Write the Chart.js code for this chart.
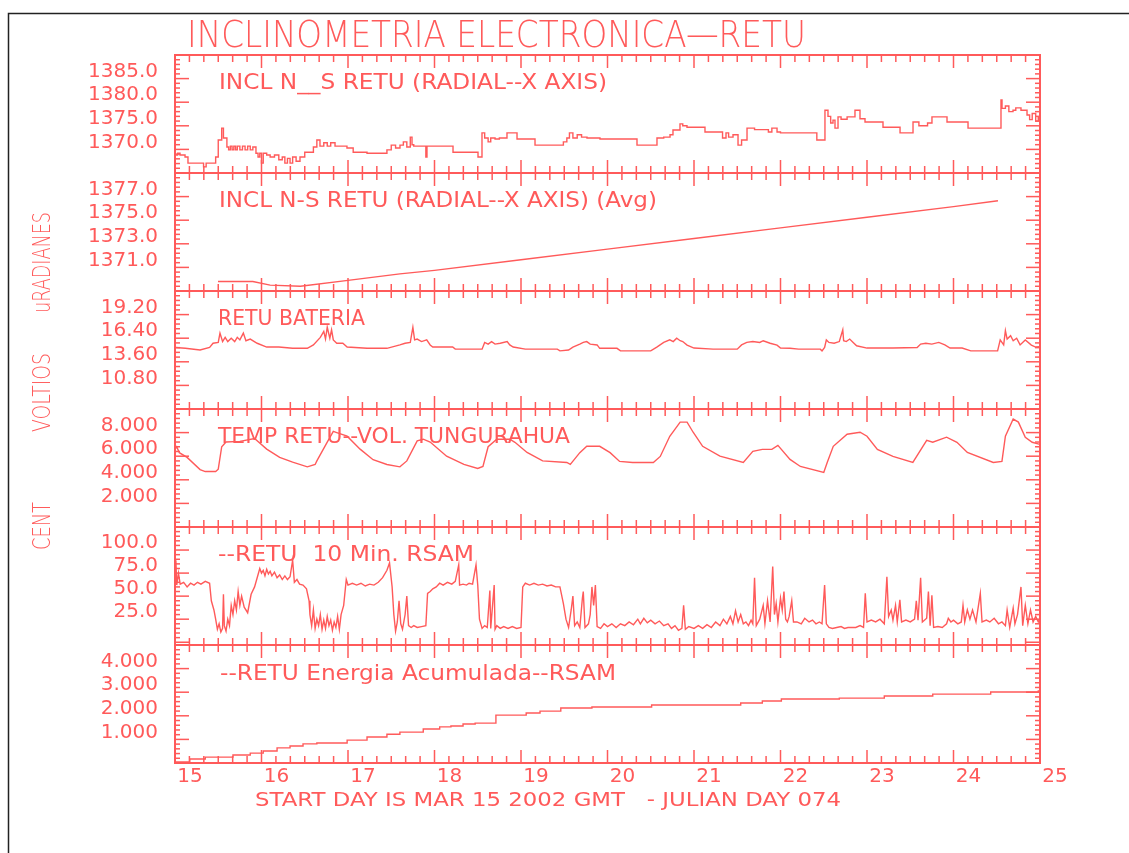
<!DOCTYPE html>
<html><head><meta charset="utf-8">
<script src="https://cdn.jsdelivr.net/npm/chart.js@4/dist/chart.umd.min.js"></script>
<style>html,body{margin:0;padding:0;background:#fff;}canvas{display:block;}</style>
</head><body>
<canvas id="c" width="1129" height="853" style="width:1129px;height:853px"></canvas>
<script>
const RED = '#ff5a5a';
const FONT = 'DejaVu Sans';

// ---- texts ----
const mainTitle = 'INCLINOMETRIA ELECTRONICA\u2014RETU';
const xTitle = 'START DAY IS MAR 15 2002 GMT   - JULIAN DAY 074';
const p1Title = 'INCL N__S RETU (RADIAL--X AXIS)';
const p2Title = 'INCL N-S RETU (RADIAL--X AXIS) (Avg)';
const p3Title = 'RETU BATERIA';
const p4Title = 'TEMP RETU--VOL. TUNGURAHUA';
const p5Title = '--RETU  10 Min. RSAM';
const p6Title = '--RETU Energia Acumulada--RSAM';
const sideLabels = ['uRADIANES', 'VOLTIOS', 'CENT'];

// ---- x axis (days) ----
const dayTicks = [15,16,17,18,19,20,21,22,23,24,25];
const subTicksPerDay = 6;

// ---- tick values & labels ----
const p1Ticks = [1385,1380,1375,1370], p1Labels = ['1385.0','1380.0','1375.0','1370.0'];
const p2Ticks = [1377,1375,1373,1371], p2Labels = ['1377.0','1375.0','1373.0','1371.0'];
const p3Ticks = [19.2,16.4,13.6,10.8], p3Labels = ['19.20','16.40','13.60','10.80'];
const p4Ticks = [8,6,4,2], p4Labels = ['8.000','6.000','4.000','2.000'];
const p5Ticks = [100,75,50,25], p5Labels = ['100.0','75.0','50.0','25.0'];
const p6Ticks = [4,3,2,1], p6Labels = ['4.000','3.000','2.000','1.000'];

// ---- series [day, value] ----
const inclNS = [[15.000,1368.8],[15.030,1369.2],[15.058,1368.8],[15.116,1368.4],[15.150,1367.1],[15.290,1367.1],[15.330,1366.3],[15.360,1367.1],[15.420,1367.1],[15.470,1368.4],[15.500,1372.0],[15.540,1374.5],[15.560,1372.4],[15.600,1370.5],[15.620,1369.9],[15.640,1370.7],[15.660,1369.9],[15.680,1370.7],[15.700,1369.9],[15.720,1370.7],[15.750,1369.9],[15.780,1370.7],[15.810,1369.9],[15.840,1370.7],[15.870,1369.9],[15.900,1370.5],[15.936,1369.2],[15.960,1368.4],[15.980,1369.2],[16.000,1367.1],[16.020,1369.2],[16.060,1368.8],[16.100,1368.4],[16.150,1368.8],[16.200,1367.8],[16.240,1368.4],[16.270,1367.1],[16.300,1368.1],[16.330,1367.1],[16.360,1368.4],[16.400,1367.5],[16.445,1368.4],[16.500,1369.4],[16.560,1369.4],[16.600,1370.5],[16.640,1372.0],[16.676,1370.7],[16.720,1371.4],[16.760,1370.7],[16.800,1371.4],[16.850,1370.7],[16.900,1370.7],[16.988,1370.3],[17.060,1369.4],[17.150,1369.4],[17.220,1369.2],[17.300,1369.2],[17.400,1369.2],[17.450,1369.9],[17.500,1370.9],[17.550,1370.3],[17.601,1370.9],[17.640,1371.6],[17.680,1370.5],[17.720,1372.6],[17.740,1371.0],[17.760,1370.7],[17.800,1370.7],[17.900,1368.4],[17.913,1370.7],[18.000,1370.7],[18.050,1370.7],[18.214,1369.4],[18.300,1369.4],[18.490,1369.4],[18.503,1368.4],[18.549,1373.5],[18.580,1372.4],[18.620,1371.6],[18.650,1372.4],[18.700,1372.2],[18.750,1372.4],[18.838,1373.5],[18.954,1372.2],[19.162,1370.9],[19.300,1370.9],[19.451,1370.9],[19.490,1371.6],[19.530,1372.4],[19.560,1373.5],[19.600,1372.4],[19.650,1373.1],[19.700,1372.6],[19.763,1372.4],[19.913,1372.2],[20.100,1372.2],[20.300,1372.2],[20.341,1370.9],[20.410,1370.9],[20.526,1370.9],[20.572,1372.4],[20.650,1372.6],[20.723,1373.1],[20.757,1374.1],[20.838,1375.4],[20.870,1375.0],[20.919,1374.7],[21.127,1373.7],[21.301,1373.7],[21.330,1372.4],[21.370,1373.5],[21.400,1372.6],[21.451,1373.1],[21.509,1370.9],[21.550,1372.0],[21.613,1374.5],[21.700,1374.2],[21.800,1374.2],[21.860,1373.7],[21.900,1374.5],[21.960,1373.7],[22.000,1373.5],[22.200,1373.5],[22.376,1373.5],[22.420,1372.0],[22.514,1378.3],[22.549,1377.0],[22.580,1375.6],[22.607,1376.2],[22.630,1374.5],[22.665,1376.9],[22.700,1376.4],[22.770,1376.9],[22.861,1378.3],[22.919,1376.5],[22.977,1375.8],[23.185,1374.7],[23.382,1373.5],[23.532,1375.8],[23.600,1375.0],[23.700,1375.6],[23.751,1376.9],[23.850,1376.9],[23.925,1375.8],[24.140,1375.8],[24.168,1374.5],[24.225,1374.5],[24.514,1374.5],[24.549,1380.5],[24.561,1378.7],[24.600,1379.2],[24.640,1378.0],[24.688,1378.3],[24.720,1378.8],[24.780,1378.3],[24.850,1377.3],[24.880,1376.3],[24.910,1377.6],[24.950,1376.0],[24.980,1376.9],[25.000,1376.0]];

const inclAvg = [[15.497,1369.8],[15.900,1369.8],[16.100,1369.5],[16.450,1369.4],[17.000,1369.9],[17.600,1370.45],[18.000,1370.75],[19.000,1371.65],[20.000,1372.55],[21.000,1373.45],[22.000,1374.35],[23.000,1375.25],[24.000,1376.15],[24.514,1376.65]];

const bateria = [[15.00,15.3],[15.12,15.2],[15.29,15.0],[15.40,15.3],[15.44,15.8],[15.50,15.9],[15.52,17.0],[15.55,16.0],[15.58,16.5],[15.61,16.0],[15.65,16.4],[15.69,16.0],[15.72,16.5],[15.75,16.2],[15.79,17.0],[15.82,16.1],[15.87,16.3],[15.95,15.8],[16.06,15.35],[16.20,15.35],[16.36,15.2],[16.53,15.2],[16.60,15.6],[16.68,16.5],[16.72,17.2],[16.74,16.3],[16.76,17.7],[16.79,16.4],[16.81,17.4],[16.83,16.2],[16.87,15.8],[16.94,15.8],[16.99,15.35],[17.22,15.2],[17.45,15.2],[17.60,15.6],[17.66,15.8],[17.72,15.9],[17.75,17.7],[17.77,16.2],[17.80,16.3],[17.85,16.0],[17.91,16.2],[17.95,15.6],[17.98,15.35],[18.21,15.35],[18.24,15.1],[18.55,15.1],[18.58,15.9],[18.62,15.7],[18.66,16.0],[18.70,15.7],[18.76,15.8],[18.84,16.0],[18.87,15.6],[18.91,15.35],[19.05,15.1],[19.42,15.1],[19.45,14.9],[19.55,15.0],[19.60,15.35],[19.68,15.7],[19.72,15.9],[19.76,16.0],[19.80,15.7],[19.88,15.6],[19.91,15.2],[20.11,15.2],[20.15,14.9],[20.50,14.9],[20.57,15.35],[20.65,15.9],[20.72,16.2],[20.76,16.0],[20.80,16.4],[20.84,16.1],[20.87,16.0],[20.92,15.58],[21.00,15.23],[21.22,15.1],[21.50,15.1],[21.55,15.6],[21.61,15.9],[21.68,16.0],[21.76,15.9],[21.80,16.1],[21.88,15.8],[21.96,15.58],[22.00,15.23],[22.11,15.2],[22.21,15.1],[22.46,15.1],[22.48,14.9],[22.51,15.3],[22.53,16.2],[22.56,15.9],[22.62,15.8],[22.68,16.0],[22.72,17.4],[22.73,16.1],[22.76,16.0],[22.80,16.3],[22.84,15.9],[22.88,15.5],[23.00,15.23],[23.30,15.23],[23.58,15.3],[23.62,15.7],[23.68,15.8],[23.75,15.7],[23.83,15.9],[23.90,15.6],[23.96,15.23],[24.10,15.23],[24.20,14.9],[24.51,14.9],[24.54,16.2],[24.58,15.6],[24.60,17.3],[24.62,16.3],[24.66,16.7],[24.69,16.1],[24.73,16.4],[24.77,15.6],[24.83,16.2],[24.90,15.58],[24.95,15.35],[25.00,15.4]];

const temperatura = [[15.00,6.6],[15.02,6.8],[15.05,6.3],[15.14,5.9],[15.29,4.87],[15.35,4.7],[15.47,4.7],[15.50,4.9],[15.54,6.8],[15.59,7.2],[15.75,7.26],[15.92,7.5],[16.06,6.6],[16.21,5.9],[16.36,5.5],[16.53,5.1],[16.62,5.3],[16.64,5.6],[16.76,7.2],[16.83,8.1],[16.87,8.0],[16.99,7.7],[17.14,6.6],[17.29,5.7],[17.45,5.3],[17.60,5.1],[17.68,5.6],[17.80,7.3],[17.87,7.44],[17.95,7.2],[18.14,6.0],[18.34,5.3],[18.50,4.96],[18.56,5.13],[18.62,6.8],[18.72,7.44],[18.87,7.44],[18.93,7.18],[19.07,6.32],[19.25,5.6],[19.53,5.47],[19.57,5.3],[19.68,6.3],[19.76,6.84],[19.91,6.84],[20.03,6.3],[20.14,5.56],[20.29,5.47],[20.53,5.47],[20.61,5.98],[20.72,7.69],[20.84,8.89],[20.92,8.89],[20.99,8.03],[21.10,6.84],[21.30,6.0],[21.57,5.47],[21.68,6.41],[21.79,6.58],[21.90,6.58],[21.97,6.92],[22.11,5.73],[22.23,5.13],[22.50,4.62],[22.54,5.47],[22.61,6.84],[22.77,7.86],[22.92,8.03],[23.00,7.69],[23.12,6.58],[23.30,5.98],[23.53,5.47],[23.69,7.35],[23.76,7.18],[23.92,7.61],[24.04,7.18],[24.16,6.32],[24.46,5.47],[24.56,5.56],[24.60,7.69],[24.69,9.15],[24.75,8.89],[24.83,7.61],[24.91,7.18],[25.00,7.0]];

const rsam = [[15.00,70],[15.01,89],[15.02,62],[15.04,75],[15.06,63],[15.10,65],[15.14,60],[15.18,64],[15.22,62],[15.26,65],[15.30,63],[15.35,66],[15.40,64],[15.42,45],[15.45,35],[15.47,25],[15.49,14],[15.51,20],[15.53,11],[15.55,15],[15.56,52],[15.57,18],[15.59,12],[15.61,25],[15.63,18],[15.65,40],[15.67,30],[15.69,45],[15.71,35],[15.73,55],[15.75,40],[15.77,50],[15.80,38],[15.84,32],[15.88,52],[15.92,60],[15.95,70],[15.98,80],[16.00,75],[16.02,78],[16.04,72],[16.06,79],[16.08,74],[16.10,77],[16.12,72],[16.15,76],[16.18,70],[16.21,73],[16.24,68],[16.27,72],[16.30,68],[16.33,71],[16.36,89],[16.38,65],[16.41,68],[16.44,63],[16.48,62],[16.52,58],[16.55,45],[16.56,30],[16.58,18],[16.60,35],[16.62,15],[16.64,25],[16.66,18],[16.68,30],[16.70,14],[16.72,24],[16.74,15],[16.76,28],[16.78,18],[16.80,24],[16.82,13],[16.84,22],[16.86,16],[16.88,28],[16.90,14],[16.92,30],[16.95,40],[16.98,68],[17.00,62],[17.05,64],[17.10,62],[17.15,64],[17.20,61],[17.25,63],[17.30,62],[17.35,65],[17.40,70],[17.45,78],[17.48,86],[17.51,60],[17.53,30],[17.55,12],[17.57,22],[17.59,45],[17.61,20],[17.63,14],[17.66,30],[17.68,50],[17.70,18],[17.73,16],[17.76,18],[17.80,16],[17.85,17],[17.90,18],[17.92,53],[17.95,55],[17.98,58],[18.02,60],[18.06,64],[18.10,62],[18.15,65],[18.20,63],[18.24,66],[18.28,84],[18.29,62],[18.33,63],[18.37,62],[18.40,64],[18.44,63],[18.48,84],[18.50,62],[18.52,25],[18.55,15],[18.58,18],[18.61,16],[18.64,56],[18.65,15],[18.69,62],[18.70,14],[18.72,18],[18.76,15],[18.80,17],[18.85,15],[18.90,17],[18.95,15],[19.00,16],[19.02,60],[19.05,64],[19.10,62],[19.15,64],[19.20,62],[19.25,63],[19.30,61],[19.35,62],[19.40,60],[19.45,60],[19.49,42],[19.52,25],[19.55,16],[19.58,35],[19.60,50],[19.62,18],[19.65,22],[19.68,16],[19.71,48],[19.72,55],[19.74,16],[19.78,20],[19.80,30],[19.82,60],[19.84,40],[19.86,62],[19.88,17],[19.92,15],[19.96,20],[20.00,17],[20.05,20],[20.10,16],[20.15,20],[20.20,18],[20.25,22],[20.30,19],[20.35,25],[20.38,20],[20.42,26],[20.46,21],[20.50,24],[20.55,20],[20.60,23],[20.65,18],[20.70,20],[20.74,15],[20.78,18],[20.82,13],[20.86,15],[20.88,40],[20.90,14],[20.94,17],[21.00,15],[21.05,18],[21.10,15],[21.15,19],[21.20,16],[21.25,22],[21.30,18],[21.34,25],[21.38,20],[21.42,28],[21.45,20],[21.48,34],[21.51,22],[21.54,30],[21.57,20],[21.60,22],[21.63,18],[21.66,24],[21.68,20],[21.70,70],[21.72,18],[21.76,25],[21.80,40],[21.82,20],[21.85,45],[21.88,22],[21.91,82],[21.93,30],[21.95,42],[21.97,22],[22.00,48],[22.02,35],[22.04,55],[22.06,25],[22.08,22],[22.10,28],[22.13,45],[22.15,22],[22.19,22],[22.24,20],[22.28,26],[22.33,22],[22.37,24],[22.41,20],[22.45,22],[22.48,20],[22.51,62],[22.53,20],[22.56,16],[22.60,15],[22.65,16],[22.70,17],[22.74,15],[22.78,16],[22.82,16],[22.87,16],[22.92,18],[22.96,16],[22.98,53],[23.00,22],[23.05,24],[23.10,22],[23.15,25],[23.20,20],[23.23,71],[23.25,28],[23.28,35],[23.30,24],[23.33,40],[23.35,22],[23.38,46],[23.40,22],[23.45,24],[23.50,22],[23.55,25],[23.57,45],[23.59,24],[23.62,70],[23.64,22],[23.69,26],[23.71,55],[23.73,18],[23.75,51],[23.77,16],[23.82,17],[23.87,16],[23.92,20],[23.94,26],[23.97,22],[24.00,24],[24.05,20],[24.09,22],[24.11,40],[24.13,22],[24.16,35],[24.19,25],[24.22,35],[24.26,22],[24.31,53],[24.33,22],[24.38,24],[24.42,22],[24.47,26],[24.52,20],[24.56,22],[24.60,18],[24.62,35],[24.65,16],[24.69,37],[24.71,20],[24.74,30],[24.78,60],[24.80,18],[24.83,40],[24.86,20],[24.89,35],[24.92,22],[24.95,28],[24.98,22],[25.00,26]];

const energia = [[15.00,0.04],[15.17,0.17],[15.35,0.25],[15.67,0.34],[15.87,0.42],[16.02,0.51],[16.18,0.64],[16.33,0.72],[16.48,0.81],[16.64,0.85],[16.99,0.97],[17.22,1.10],[17.45,1.22],[17.60,1.31],[17.87,1.44],[18.06,1.53],[18.19,1.57],[18.33,1.65],[18.47,1.69],[18.71,2.03],[19.06,2.12],[19.22,2.20],[19.46,2.33],[19.82,2.37],[20.51,2.46],[21.54,2.54],[21.79,2.63],[22.01,2.71],[22.68,2.75],[23.20,2.84],[23.76,2.92],[24.43,3.01],[24.98,3.05],[25.00,3.07]];

// ---- panel configuration (built from the arrays above) ----
const panels = [
  {id:'y1', min:1365, max:1390, base:1365, major:5,   ticks:p1Ticks, labels:p1Labels, data:inclNS,      title:p1Title, stepped:'before'},
  {id:'y2', min:1369, max:1379, base:1369, major:2,   ticks:p2Ticks, labels:p2Labels, data:inclAvg,     title:p2Title, stepped:false},
  {id:'y3', min:8,    max:22,   base:8,    major:2.8, ticks:p3Ticks, labels:p3Labels, data:bateria,     title:p3Title, stepped:false},
  {id:'y4', min:0,    max:10,   base:0,    major:2,   ticks:p4Ticks, labels:p4Labels, data:temperatura, title:p4Title, stepped:false},
  {id:'y5', min:-3,   max:125,  base:0,    major:25,  ticks:p5Ticks, labels:p5Labels, data:rsam,        title:p5Title, stepped:false},
  {id:'y6', min:0,    max:5,    base:0,    major:1,   ticks:p6Ticks, labels:p6Labels, data:energia,     title:p6Title, stepped:'before'}
];

const scales = {
  x: {
    type:'linear', position:'bottom', min:15, max:25,
    grid:{display:false, drawTicks:false}, border:{display:false},
    afterBuildTicks: s => { s.ticks = dayTicks.map(v => ({value:v})); },
    afterFit: s => { s.height = 60; },
    ticks:{autoSkip:false, maxRotation:0, minRotation:0, padding:2, labelOffset:15, color:RED,
           font:{family:FONT, size:20}, callback: v => String(v)}
  }
};
panels.forEach((p, i) => {
  scales[p.id] = {
    type:'linear', position:'left', stack:'panels', stackWeight:1, weight: panels.length - i,
    min:p.min, max:p.max,
    grid:{display:false, drawTicks:false}, border:{display:false},
    afterBuildTicks: s => { s.ticks = p.ticks.map(v => ({value:v})); },
    afterFit: s => { s.width = 175; },
    ticks:{autoSkip:false, padding:17, labelOffset:-7, color:RED,
           font:{family:FONT, size:20}, callback: (v, idx) => p.labels[idx]}
  };
});

function fitText(ctx, text, x, y, w, font, rot) {
  ctx.save();
  ctx.font = font; ctx.fillStyle = RED; ctx.textBaseline = 'middle'; ctx.textAlign = 'left';
  const m = ctx.measureText(text).width;
  ctx.translate(x, y);
  if (rot) ctx.rotate(rot);
  ctx.scale(w / m, 1);
  ctx.fillText(text, 0, 0);
  ctx.restore();
}

const decor = {
  id:'decor',
  beforeDraw(chart) {
    const ctx = chart.ctx;
    ctx.save();
    ctx.fillStyle = '#fff'; ctx.fillRect(0, 0, chart.width, chart.height);
    ctx.strokeStyle = '#222'; ctx.lineWidth = 1.5;
    ctx.beginPath(); ctx.moveTo(8.5, chart.height); ctx.lineTo(8.5, 13.5); ctx.lineTo(chart.width, 13.5); ctx.stroke();
    ctx.restore();
  },
  afterDraw(chart) {
    const ctx = chart.ctx, a = chart.chartArea, xs = chart.scales.x;
    ctx.save();
    ctx.strokeStyle = RED;
    const seg = (x1, y1, x2, y2) => { ctx.beginPath(); ctx.moveTo(x1, y1); ctx.lineTo(x2, y2); ctx.stroke(); };
    ctx.lineWidth = 2;
    ctx.strokeRect(a.left, a.top, a.right - a.left, a.bottom - a.top);
    const nSub = (dayTicks[dayTicks.length-1] - dayTicks[0]) * subTicksPerDay;
    panels.forEach(p => {
      const ys = chart.scales[p.id];
      ctx.lineWidth = 2;
      seg(a.left, ys.top, a.right, ys.top);
      ctx.lineWidth = 1.5;
      for (let k = 0; k <= nSub; k++) {
        const px = xs.getPixelForValue(dayTicks[0] + k / subTicksPerDay);
        const L = (k % subTicksPerDay === 0) ? 13 : 7;
        seg(px, ys.top, px, ys.top + L);
        seg(px, ys.bottom, px, ys.bottom - L);
      }
      const minor = p.major / 5;
      const k0 = Math.ceil((p.min - p.base) / minor - 1e-6), k1 = Math.floor((p.max - p.base) / minor + 1e-6);
      for (let k = k0; k <= k1; k++) {
        const py = ys.getPixelForValue(p.base + k * minor);
        const L = (k % 5 === 0) ? 14 : 5;
        seg(a.left, py, a.left + L, py);
        seg(a.right, py, a.right - L, py);
      }
    });
    ctx.restore();
    // texts
    fitText(ctx, mainTitle, 187, 37, 619, '200 37px "' + FONT + '"');
    const titlePos = [[219, 83, 388], [219, 201, 438], [218, 319, 147], [218, 437, 352], [218, 555, 256], [220, 674, 396]];
    panels.forEach((p, i) => fitText(ctx, p.title, titlePos[i][0], titlePos[i][1], titlePos[i][2], '22px "' + FONT + '"'));
    fitText(ctx, xTitle, 255, 801, 586, '20px "' + FONT + '"');
    const sidePos = [[44, 313, 101], [44, 432, 79], [44, 550, 48]];
    sideLabels.forEach((t, i) => fitText(ctx, t, sidePos[i][0], sidePos[i][1], sidePos[i][2], '200 24px "' + FONT + '"', -Math.PI / 2));
  }
};

new Chart(document.getElementById('c'), {
  type:'line',
  data:{ datasets: panels.map(p => ({
    data: p.data.map(([x, y]) => ({x, y})),
    xAxisID:'x', yAxisID:p.id,
    borderColor:RED, borderWidth:1.4, pointRadius:0, fill:false, tension:0, stepped:p.stepped
  }))},
  options:{
    responsive:false, devicePixelRatio:1, animation:false, events:[],
    layout:{padding:{top:55, right:89, bottom:30, left:0}},
    plugins:{legend:{display:false}, title:{display:false}, tooltip:{enabled:false}},
    scales
  },
  plugins:[decor]
});
</script>
</body></html>
